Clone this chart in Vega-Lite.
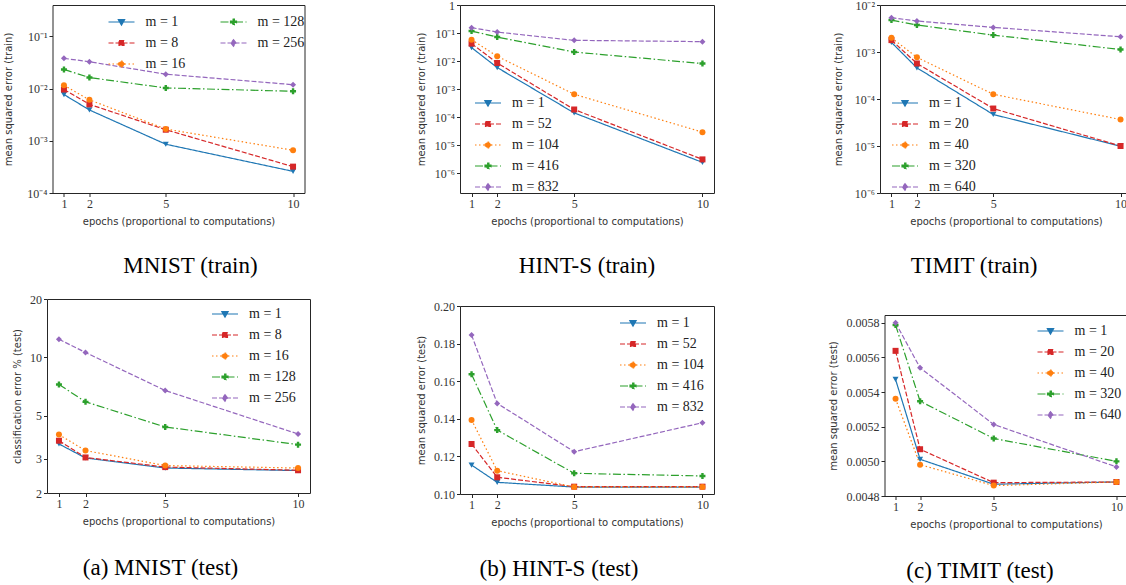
{
  "$schema": "https://vega.github.io/schema/vega-lite/v6.json",
  "padding": {"left": 3, "top": -2, "right": 0, "bottom": 0},
  "background": "white",
  "config": {
    "view": {"stroke": "#262626", "strokeWidth": 1},
    "axis": {"domain": false, "grid": false, "tickSize": 3.5, "tickColor": "#262626", "tickWidth": 1, "labelFont": "Liberation Serif", "labelFontSize": 12, "labelColor": "#333333", "labelPadding": 2, "titleFont": "DejaVu Sans", "titleFontSize": 10, "titleFontWeight": "normal", "titleColor": "#333333"},
    "axisX": {"titlePadding": 7, "labelFlush": false},
    "axisY": {"labelFlush": false, "labelOverlap": false, "titleBaseline": "middle"},
    "legend": {"labelFont": "Liberation Serif", "labelFontSize": 14, "labelColor": "#222222", "symbolSize": 676, "labelOffset": 10, "rowPadding": -11, "padding": 0,
      "symbolFillColor": {"expr": "['#1f77b4','#d62728','#ff7f0e','#2ca02c','#9467bd'][datum.value]"},
      "symbolDash": {"expr": "[[1,0],[5,2],[1.5,2.5],[8,2.5,1.5,2.5],[5,2]][datum.value]"},
      "symbolStrokeWidth": 1.2, "symbolOpacity": 1},
    "title": {"font": "Liberation Serif", "fontSize": 23, "fontWeight": "normal", "color": "black", "orient": "bottom", "offset": 28, "frame": "group", "anchor": "middle"},
    "line": {"strokeWidth": 1.2},
    "point": {"filled": true, "opacity": 1, "size": 36}
  },
  "data": {"values": [
    {"p":"a","s":0,"e":1,"v":0.0077},{"p":"a","s":0,"e":2,"v":0.0039},{"p":"a","s":0,"e":5,"v":0.00086},{"p":"a","s":0,"e":10,"v":0.00026},
    {"p":"a","s":1,"e":1,"v":0.0096},{"p":"a","s":1,"e":2,"v":0.005},{"p":"a","s":1,"e":5,"v":0.00163},{"p":"a","s":1,"e":10,"v":0.00032},
    {"p":"a","s":2,"e":1,"v":0.0116},{"p":"a","s":2,"e":2,"v":0.0061},{"p":"a","s":2,"e":5,"v":0.00168},{"p":"a","s":2,"e":10,"v":0.00066},
    {"p":"a","s":3,"e":1,"v":0.0233},{"p":"a","s":3,"e":2,"v":0.0163},{"p":"a","s":3,"e":5,"v":0.0103},{"p":"a","s":3,"e":10,"v":0.0089},
    {"p":"a","s":4,"e":1,"v":0.038},{"p":"a","s":4,"e":2,"v":0.0327},{"p":"a","s":4,"e":5,"v":0.0189},{"p":"a","s":4,"e":10,"v":0.0119},
    {"p":"b","s":0,"e":1,"v":0.0303},{"p":"b","s":0,"e":2,"v":0.0059},{"p":"b","s":0,"e":5,"v":0.000143},{"p":"b","s":0,"e":10,"v":0.00000247},
    {"p":"b","s":1,"e":1,"v":0.042},{"p":"b","s":1,"e":2,"v":0.0086},{"p":"b","s":1,"e":5,"v":0.000189},{"p":"b","s":1,"e":10,"v":0.00000315},
    {"p":"b","s":2,"e":1,"v":0.0583},{"p":"b","s":2,"e":2,"v":0.0149},{"p":"b","s":2,"e":5,"v":0.00066},{"p":"b","s":2,"e":10,"v":0.0000295},
    {"p":"b","s":3,"e":1,"v":0.118},{"p":"b","s":3,"e":2,"v":0.0722},{"p":"b","s":3,"e":5,"v":0.0211},{"p":"b","s":3,"e":10,"v":0.0082},
    {"p":"b","s":4,"e":1,"v":0.156},{"p":"b","s":4,"e":2,"v":0.1087},{"p":"b","s":4,"e":5,"v":0.0551},{"p":"b","s":4,"e":10,"v":0.0495},
    {"p":"c","s":0,"e":1,"v":0.0016},{"p":"c","s":0,"e":2,"v":0.00046},{"p":"c","s":0,"e":5,"v":0.0000468},{"p":"c","s":0,"e":10,"v":0.0000099},
    {"p":"c","s":1,"e":1,"v":0.00179},{"p":"c","s":1,"e":2,"v":0.00057},{"p":"c","s":1,"e":5,"v":0.0000627},{"p":"c","s":1,"e":10,"v":0.00001},
    {"p":"c","s":2,"e":1,"v":0.002},{"p":"c","s":2,"e":2,"v":0.00077},{"p":"c","s":2,"e":5,"v":0.000126},{"p":"c","s":2,"e":10,"v":0.0000366},
    {"p":"c","s":3,"e":1,"v":0.00478},{"p":"c","s":3,"e":2,"v":0.00375},{"p":"c","s":3,"e":5,"v":0.00229},{"p":"c","s":3,"e":10,"v":0.00113},
    {"p":"c","s":4,"e":1,"v":0.00537},{"p":"c","s":4,"e":2,"v":0.00456},{"p":"c","s":4,"e":5,"v":0.00334},{"p":"c","s":4,"e":10,"v":0.00211},
    {"p":"d","s":0,"e":1,"v":3.58},{"p":"d","s":0,"e":2,"v":3.03},{"p":"d","s":0,"e":5,"v":2.69},{"p":"d","s":0,"e":10,"v":2.61},
    {"p":"d","s":1,"e":1,"v":3.72},{"p":"d","s":1,"e":2,"v":3.05},{"p":"d","s":1,"e":5,"v":2.72},{"p":"d","s":1,"e":10,"v":2.62},
    {"p":"d","s":2,"e":1,"v":4.0},{"p":"d","s":2,"e":2,"v":3.31},{"p":"d","s":2,"e":5,"v":2.77},{"p":"d","s":2,"e":10,"v":2.69},
    {"p":"d","s":3,"e":1,"v":7.25},{"p":"d","s":3,"e":2,"v":5.9},{"p":"d","s":3,"e":5,"v":4.38},{"p":"d","s":3,"e":10,"v":3.55},
    {"p":"d","s":4,"e":1,"v":12.4},{"p":"d","s":4,"e":2,"v":10.6},{"p":"d","s":4,"e":5,"v":6.75},{"p":"d","s":4,"e":10,"v":4.03},
    {"p":"e","s":0,"e":1,"v":0.1154},{"p":"e","s":0,"e":2,"v":0.1062},{"p":"e","s":0,"e":5,"v":0.1037},{"p":"e","s":0,"e":10,"v":0.1037},
    {"p":"e","s":1,"e":1,"v":0.1266},{"p":"e","s":1,"e":2,"v":0.1089},{"p":"e","s":1,"e":5,"v":0.1039},{"p":"e","s":1,"e":10,"v":0.1039},
    {"p":"e","s":2,"e":1,"v":0.1394},{"p":"e","s":2,"e":2,"v":0.1124},{"p":"e","s":2,"e":5,"v":0.1037},{"p":"e","s":2,"e":10,"v":0.1037},
    {"p":"e","s":3,"e":1,"v":0.1637},{"p":"e","s":3,"e":2,"v":0.134},{"p":"e","s":3,"e":5,"v":0.111},{"p":"e","s":3,"e":10,"v":0.1096},
    {"p":"e","s":4,"e":1,"v":0.1846},{"p":"e","s":4,"e":2,"v":0.1482},{"p":"e","s":4,"e":5,"v":0.1225},{"p":"e","s":4,"e":10,"v":0.1379},
    {"p":"f","s":0,"e":1,"v":0.005473},{"p":"f","s":0,"e":2,"v":0.005012},{"p":"f","s":0,"e":5,"v":0.004868},{"p":"f","s":0,"e":10,"v":0.004881},
    {"p":"f","s":1,"e":1,"v":0.005638},{"p":"f","s":1,"e":2,"v":0.00507},{"p":"f","s":1,"e":5,"v":0.004877},{"p":"f","s":1,"e":10,"v":0.004881},
    {"p":"f","s":2,"e":1,"v":0.005361},{"p":"f","s":2,"e":2,"v":0.004981},{"p":"f","s":2,"e":5,"v":0.00486},{"p":"f","s":2,"e":10,"v":0.004881},
    {"p":"f","s":3,"e":1,"v":0.005787},{"p":"f","s":3,"e":2,"v":0.005347},{"p":"f","s":3,"e":5,"v":0.005132},{"p":"f","s":3,"e":10,"v":0.005},
    {"p":"f","s":4,"e":1,"v":0.0058},{"p":"f","s":4,"e":2,"v":0.00554},{"p":"f","s":4,"e":5,"v":0.005213},{"p":"f","s":4,"e":10,"v":0.004968}
  ]},
  "bounds": "full",
  "spacing": 104,
  "resolve": {"scale": {"color": "independent", "strokeDash": "independent"}, "legend": {"color": "independent"}},
  "hconcat": [
    {
      "bounds": "flush", "center": true, "spacing": 106,
      "resolve": {"scale": {"color": "independent", "strokeDash": "independent"}, "legend": {"color": "independent"}},
      "vconcat": [
        {
          "width": 252, "height": 188,
          "title": {"text": "MNIST (train)", "dx": 12},
          "transform": [{"filter": "datum.p == 'a'"}],
          "encoding": {
            "x": {"field": "e", "type": "quantitative", "scale": {"domain": [0.55, 10.45], "nice": false, "zero": false}, "axis": {"values": [1, 2, 5, 10], "title": "epochs (proportional to computations)"}},
            "y": {"field": "v", "type": "quantitative", "scale": {"type": "log", "domain": [0.0001, 0.4], "nice": false}, "axis": {"values": [0.0001, 0.001, 0.01, 0.1], "labelExpr": "datum.value >= 1 ? '1' : '10' + ['','⁻¹','⁻²','⁻³','⁻⁴','⁻⁵','⁻⁶'][round(-log(datum.value)/LN10)]", "title": "mean squared error (train)", "titleX": -44}}
          },
          "layer": [
            {"mark": "line", "encoding": {
              "color": {"field": "s", "type": "nominal", "scale": {"domain": [0, 1, 2, 3, 4], "range": ["#1f77b4", "#d62728", "#ff7f0e", "#2ca02c", "#9467bd"]},
                "legend": {"title": null, "orient": "none", "legendX": 55, "legendY": 3, "columns": 2, "columnPadding": 32,
                  "symbolType": {"expr": "['M-1,0H1M-0.24,-0.18H0.24L0,0.24Z','M-1,0H1M-0.19,-0.19H0.19V0.19H-0.19Z','M-1,0H1M-0.22,0A0.22,0.22,0,1,0,0.22,0A0.22,0.22,0,1,0,-0.22,0Z','M-1,0H1M-0.07,-0.23H0.07V-0.07H0.23V0.07H0.07V0.23H-0.07V0.07H-0.23V-0.07H-0.07Z','M-1,0H1M0,-0.25L0.2,0L0,0.25L-0.2,0Z'][datum.value]"},
                  "labelExpr": "['m = 1','m = 8','m = 16','m = 128','m = 256'][datum.value]"}},
              "strokeDash": {"field": "s", "type": "nominal", "scale": {"domain": [0, 1, 2, 3, 4], "range": [[1, 0], [5, 2], [1.5, 2.5], [8, 2.5, 1.5, 2.5], [5, 2]]}, "legend": null}}},
            {"transform": [{"filter": "datum.s == 0"}], "mark": {"type": "point", "shape": "triangle-down", "color": "#1f77b4"}},
            {"transform": [{"filter": "datum.s == 1"}], "mark": {"type": "point", "shape": "square", "color": "#d62728"}},
            {"transform": [{"filter": "datum.s == 2"}], "mark": {"type": "point", "shape": "circle", "color": "#ff7f0e"}},
            {"transform": [{"filter": "datum.s == 3"}], "mark": {"type": "point", "shape": "cross", "color": "#2ca02c"}},
            {"transform": [{"filter": "datum.s == 4"}], "mark": {"type": "point", "shape": "diamond", "color": "#9467bd"}}
          ]
        },
        {
          "width": 263, "height": 194,
          "title": {"text": "(a) MNIST (test)", "dx": -18, "offset": 30},
          "transform": [{"filter": "datum.p == 'd'"}],
          "encoding": {
            "x": {"field": "e", "type": "quantitative", "scale": {"domain": [0.55, 10.45], "nice": false, "zero": false}, "axis": {"values": [1, 2, 5, 10], "title": "epochs (proportional to computations)"}},
            "y": {"field": "v", "type": "quantitative", "scale": {"type": "log", "domain": [2, 20], "nice": false}, "axis": {"values": [2, 3, 5, 10, 20], "format": "d", "title": "classification error % (test)", "titleX": -30}}
          },
          "layer": [
            {"mark": "line", "encoding": {
              "color": {"field": "s", "type": "nominal", "scale": {"domain": [0, 1, 2, 3, 4], "range": ["#1f77b4", "#d62728", "#ff7f0e", "#2ca02c", "#9467bd"]},
                "legend": {"title": null, "orient": "none", "legendX": 164, "legendY": 1, "rowPadding": -10.3,
                  "symbolType": {"expr": "['M-1,0H1M-0.24,-0.18H0.24L0,0.24Z','M-1,0H1M-0.19,-0.19H0.19V0.19H-0.19Z','M-1,0H1M-0.22,0A0.22,0.22,0,1,0,0.22,0A0.22,0.22,0,1,0,-0.22,0Z','M-1,0H1M-0.07,-0.23H0.07V-0.07H0.23V0.07H0.07V0.23H-0.07V0.07H-0.23V-0.07H-0.07Z','M-1,0H1M0,-0.25L0.2,0L0,0.25L-0.2,0Z'][datum.value]"},
                  "labelExpr": "['m = 1','m = 8','m = 16','m = 128','m = 256'][datum.value]"}},
              "strokeDash": {"field": "s", "type": "nominal", "scale": {"domain": [0, 1, 2, 3, 4], "range": [[1, 0], [5, 2], [1.5, 2.5], [8, 2.5, 1.5, 2.5], [5, 2]]}, "legend": null}}},
            {"transform": [{"filter": "datum.s == 0"}], "mark": {"type": "point", "shape": "triangle-down", "color": "#1f77b4"}},
            {"transform": [{"filter": "datum.s == 1"}], "mark": {"type": "point", "shape": "square", "color": "#d62728"}},
            {"transform": [{"filter": "datum.s == 2"}], "mark": {"type": "point", "shape": "circle", "color": "#ff7f0e"}},
            {"transform": [{"filter": "datum.s == 3"}], "mark": {"type": "point", "shape": "cross", "color": "#2ca02c"}},
            {"transform": [{"filter": "datum.s == 4"}], "mark": {"type": "point", "shape": "diamond", "color": "#9467bd"}}
          ]
        }
      ]
    },
    {
      "bounds": "full", "spacing": 113,
      "resolve": {"scale": {"color": "independent", "strokeDash": "independent"}, "legend": {"color": "independent"}},
      "hconcat": [
        {
          "bounds": "flush", "center": true, "spacing": 113,
          "resolve": {"scale": {"color": "independent", "strokeDash": "independent"}, "legend": {"color": "independent"}},
          "vconcat": [
            {
              "width": 254, "height": 188,
              "title": {"text": "HINT-S (train)", "dx": 0},
              "transform": [{"filter": "datum.p == 'b'"}],
              "encoding": {
                "x": {"field": "e", "type": "quantitative", "scale": {"domain": [0.55, 10.45], "nice": false, "zero": false}, "axis": {"values": [1, 2, 5, 10], "title": "epochs (proportional to computations)"}},
                "y": {"field": "v", "type": "quantitative", "scale": {"type": "log", "domain": [0.0000002, 1], "nice": false}, "axis": {"values": [0.000001, 0.00001, 0.0001, 0.001, 0.01, 0.1, 1], "labelExpr": "datum.value >= 1 ? '1' : '10' + ['','⁻¹','⁻²','⁻³','⁻⁴','⁻⁵','⁻⁶'][round(-log(datum.value)/LN10)]", "title": "mean squared error (train)", "titleX": -39}}
              },
              "layer": [
                {"mark": "line", "encoding": {
                  "color": {"field": "s", "type": "nominal", "scale": {"domain": [0, 1, 2, 3, 4], "range": ["#1f77b4", "#d62728", "#ff7f0e", "#2ca02c", "#9467bd"]},
                    "legend": {"title": null, "orient": "none", "legendX": 14, "legendY": 84,
                      "symbolType": {"expr": "['M-1,0H1M-0.24,-0.18H0.24L0,0.24Z','M-1,0H1M-0.19,-0.19H0.19V0.19H-0.19Z','M-1,0H1M-0.22,0A0.22,0.22,0,1,0,0.22,0A0.22,0.22,0,1,0,-0.22,0Z','M-1,0H1M-0.07,-0.23H0.07V-0.07H0.23V0.07H0.07V0.23H-0.07V0.07H-0.23V-0.07H-0.07Z','M-1,0H1M0,-0.25L0.2,0L0,0.25L-0.2,0Z'][datum.value]"},
                      "labelExpr": "['m = 1','m = 52','m = 104','m = 416','m = 832'][datum.value]"}},
                  "strokeDash": {"field": "s", "type": "nominal", "scale": {"domain": [0, 1, 2, 3, 4], "range": [[1, 0], [5, 2], [1.5, 2.5], [8, 2.5, 1.5, 2.5], [5, 2]]}, "legend": null}}},
                {"transform": [{"filter": "datum.s == 0"}], "mark": {"type": "point", "shape": "triangle-down", "color": "#1f77b4"}},
                {"transform": [{"filter": "datum.s == 1"}], "mark": {"type": "point", "shape": "square", "color": "#d62728"}},
                {"transform": [{"filter": "datum.s == 2"}], "mark": {"type": "point", "shape": "circle", "color": "#ff7f0e"}},
                {"transform": [{"filter": "datum.s == 3"}], "mark": {"type": "point", "shape": "cross", "color": "#2ca02c"}},
                {"transform": [{"filter": "datum.s == 4"}], "mark": {"type": "point", "shape": "diamond", "color": "#9467bd"}}
              ]
            },
            {
              "width": 254, "height": 188,
              "title": {"text": "(b) HINT-S (test)", "dx": -28, "offset": 30},
              "transform": [{"filter": "datum.p == 'e'"}],
              "encoding": {
                "x": {"field": "e", "type": "quantitative", "scale": {"domain": [0.55, 10.45], "nice": false, "zero": false}, "axis": {"values": [1, 2, 5, 10], "title": "epochs (proportional to computations)"}},
                "y": {"field": "v", "type": "quantitative", "scale": {"domain": [0.1, 0.2], "nice": false, "zero": false}, "axis": {"values": [0.1, 0.12, 0.14, 0.16, 0.18, 0.2], "format": ".2f", "title": "mean squared error (test)", "titleX": -39}}
              },
              "layer": [
                {"mark": "line", "encoding": {
                  "color": {"field": "s", "type": "nominal", "scale": {"domain": [0, 1, 2, 3, 4], "range": ["#1f77b4", "#d62728", "#ff7f0e", "#2ca02c", "#9467bd"]},
                    "legend": {"title": null, "orient": "none", "legendX": 159, "legendY": 3,
                      "symbolType": {"expr": "['M-1,0H1M-0.24,-0.18H0.24L0,0.24Z','M-1,0H1M-0.19,-0.19H0.19V0.19H-0.19Z','M-1,0H1M-0.22,0A0.22,0.22,0,1,0,0.22,0A0.22,0.22,0,1,0,-0.22,0Z','M-1,0H1M-0.07,-0.23H0.07V-0.07H0.23V0.07H0.07V0.23H-0.07V0.07H-0.23V-0.07H-0.07Z','M-1,0H1M0,-0.25L0.2,0L0,0.25L-0.2,0Z'][datum.value]"},
                      "labelExpr": "['m = 1','m = 52','m = 104','m = 416','m = 832'][datum.value]"}},
                  "strokeDash": {"field": "s", "type": "nominal", "scale": {"domain": [0, 1, 2, 3, 4], "range": [[1, 0], [5, 2], [1.5, 2.5], [8, 2.5, 1.5, 2.5], [5, 2]]}, "legend": null}}},
                {"transform": [{"filter": "datum.s == 0"}], "mark": {"type": "point", "shape": "triangle-down", "color": "#1f77b4"}},
                {"transform": [{"filter": "datum.s == 1"}], "mark": {"type": "point", "shape": "square", "color": "#d62728"}},
                {"transform": [{"filter": "datum.s == 2"}], "mark": {"type": "point", "shape": "circle", "color": "#ff7f0e"}},
                {"transform": [{"filter": "datum.s == 3"}], "mark": {"type": "point", "shape": "cross", "color": "#2ca02c"}},
                {"transform": [{"filter": "datum.s == 4"}], "mark": {"type": "point", "shape": "diamond", "color": "#9467bd"}}
              ]
            }
          ]
        },
        {
          "bounds": "flush", "center": true, "spacing": 122,
          "resolve": {"scale": {"color": "independent", "strokeDash": "independent"}, "legend": {"color": "independent"}},
          "vconcat": [
            {
              "width": 252, "height": 188,
              "title": {"text": "TIMIT (train)", "dx": -32},
              "transform": [{"filter": "datum.p == 'c'"}],
              "encoding": {
                "x": {"field": "e", "type": "quantitative", "scale": {"domain": [0.55, 10.45], "nice": false, "zero": false}, "axis": {"values": [1, 2, 5, 10], "title": "epochs (proportional to computations)"}},
                "y": {"field": "v", "type": "quantitative", "scale": {"type": "log", "domain": [0.000001, 0.01], "nice": false}, "axis": {"values": [0.000001, 0.00001, 0.0001, 0.001, 0.01], "labelExpr": "datum.value >= 1 ? '1' : '10' + ['','⁻¹','⁻²','⁻³','⁻⁴','⁻⁵','⁻⁶'][round(-log(datum.value)/LN10)]", "title": "mean squared error (train)", "titleX": -42}}
              },
              "layer": [
                {"mark": "line", "encoding": {
                  "color": {"field": "s", "type": "nominal", "scale": {"domain": [0, 1, 2, 3, 4], "range": ["#1f77b4", "#d62728", "#ff7f0e", "#2ca02c", "#9467bd"]},
                    "legend": {"title": null, "orient": "none", "legendX": 11, "legendY": 84,
                      "symbolType": {"expr": "['M-1,0H1M-0.24,-0.18H0.24L0,0.24Z','M-1,0H1M-0.19,-0.19H0.19V0.19H-0.19Z','M-1,0H1M-0.22,0A0.22,0.22,0,1,0,0.22,0A0.22,0.22,0,1,0,-0.22,0Z','M-1,0H1M-0.07,-0.23H0.07V-0.07H0.23V0.07H0.07V0.23H-0.07V0.07H-0.23V-0.07H-0.07Z','M-1,0H1M0,-0.25L0.2,0L0,0.25L-0.2,0Z'][datum.value]"},
                      "labelExpr": "['m = 1','m = 20','m = 40','m = 320','m = 640'][datum.value]"}},
                  "strokeDash": {"field": "s", "type": "nominal", "scale": {"domain": [0, 1, 2, 3, 4], "range": [[1, 0], [5, 2], [1.5, 2.5], [8, 2.5, 1.5, 2.5], [5, 2]]}, "legend": null}}},
                {"transform": [{"filter": "datum.s == 0"}], "mark": {"type": "point", "shape": "triangle-down", "color": "#1f77b4"}},
                {"transform": [{"filter": "datum.s == 1"}], "mark": {"type": "point", "shape": "square", "color": "#d62728"}},
                {"transform": [{"filter": "datum.s == 2"}], "mark": {"type": "point", "shape": "circle", "color": "#ff7f0e"}},
                {"transform": [{"filter": "datum.s == 3"}], "mark": {"type": "point", "shape": "cross", "color": "#2ca02c"}},
                {"transform": [{"filter": "datum.s == 4"}], "mark": {"type": "point", "shape": "diamond", "color": "#9467bd"}}
              ]
            },
            {
              "width": 243, "height": 181,
              "title": {"text": "(c) TIMIT (test)", "dx": -26, "offset": 30},
              "transform": [{"filter": "datum.p == 'f'"}],
              "encoding": {
                "x": {"field": "e", "type": "quantitative", "scale": {"domain": [0.55, 10.45], "nice": false, "zero": false}, "axis": {"values": [1, 2, 5, 10], "title": "epochs (proportional to computations)"}},
                "y": {"field": "v", "type": "quantitative", "scale": {"domain": [0.0048, 0.005845], "nice": false, "zero": false}, "axis": {"values": [0.0048, 0.005, 0.0052, 0.0054, 0.0056, 0.0058], "format": ".4f", "title": "mean squared error (test)", "titleX": -51}}
              },
              "layer": [
                {"mark": "line", "encoding": {
                  "color": {"field": "s", "type": "nominal", "scale": {"domain": [0, 1, 2, 3, 4], "range": ["#1f77b4", "#d62728", "#ff7f0e", "#2ca02c", "#9467bd"]},
                    "legend": {"title": null, "orient": "none", "legendX": 152, "legendY": 2, "rowPadding": -11.3,
                      "symbolType": {"expr": "['M-1,0H1M-0.24,-0.18H0.24L0,0.24Z','M-1,0H1M-0.19,-0.19H0.19V0.19H-0.19Z','M-1,0H1M-0.22,0A0.22,0.22,0,1,0,0.22,0A0.22,0.22,0,1,0,-0.22,0Z','M-1,0H1M-0.07,-0.23H0.07V-0.07H0.23V0.07H0.07V0.23H-0.07V0.07H-0.23V-0.07H-0.07Z','M-1,0H1M0,-0.25L0.2,0L0,0.25L-0.2,0Z'][datum.value]"},
                      "labelExpr": "['m = 1','m = 20','m = 40','m = 320','m = 640'][datum.value]"}},
                  "strokeDash": {"field": "s", "type": "nominal", "scale": {"domain": [0, 1, 2, 3, 4], "range": [[1, 0], [5, 2], [1.5, 2.5], [8, 2.5, 1.5, 2.5], [5, 2]]}, "legend": null}}},
                {"transform": [{"filter": "datum.s == 0"}], "mark": {"type": "point", "shape": "triangle-down", "color": "#1f77b4"}},
                {"transform": [{"filter": "datum.s == 1"}], "mark": {"type": "point", "shape": "square", "color": "#d62728"}},
                {"transform": [{"filter": "datum.s == 2"}], "mark": {"type": "point", "shape": "circle", "color": "#ff7f0e"}},
                {"transform": [{"filter": "datum.s == 3"}], "mark": {"type": "point", "shape": "cross", "color": "#2ca02c"}},
                {"transform": [{"filter": "datum.s == 4"}], "mark": {"type": "point", "shape": "diamond", "color": "#9467bd"}}
              ]
            }
          ]
        }
      ]
    }
  ]
}
